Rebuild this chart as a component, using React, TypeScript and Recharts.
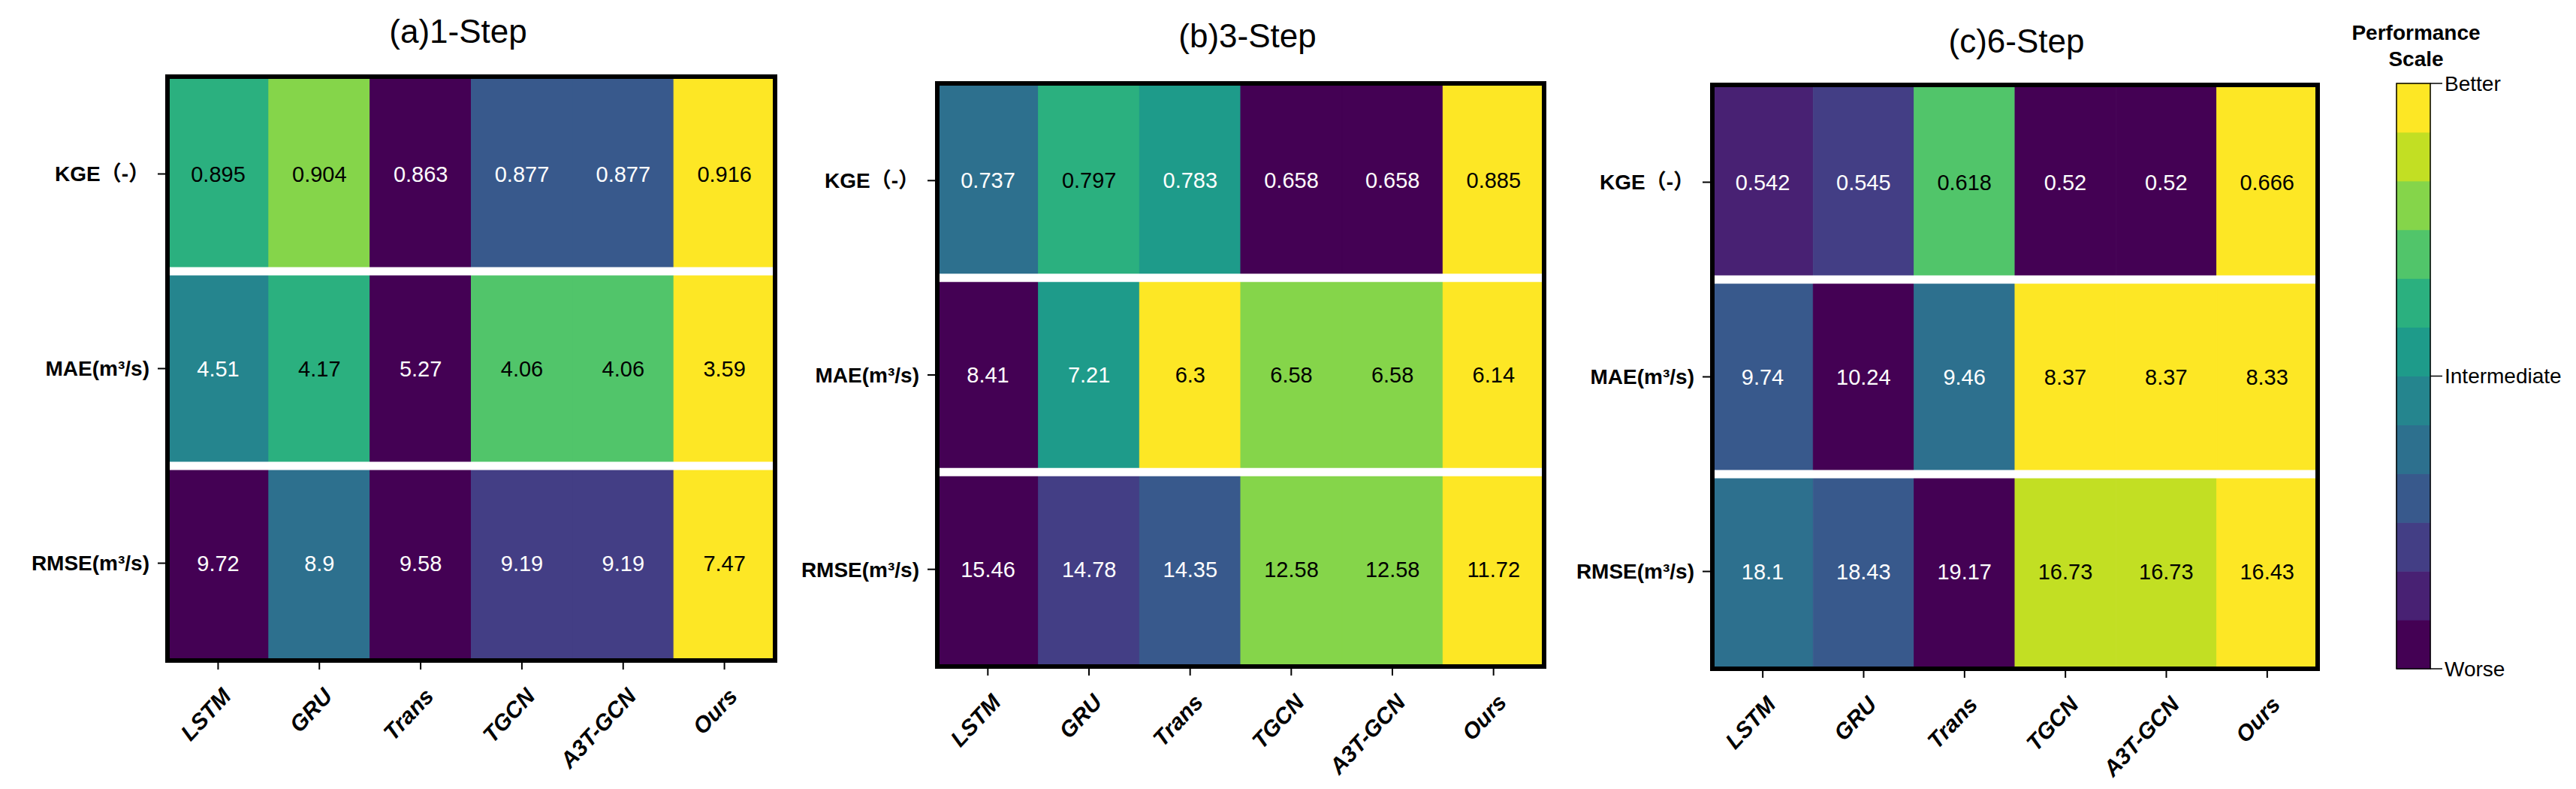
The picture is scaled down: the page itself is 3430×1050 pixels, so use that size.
import React from "react";
import {
  BarChart, Bar, XAxis, YAxis, Cell, LabelList, ReferenceLine, ReferenceArea,
} from "recharts";

const FONT = '"Liberation Sans", Arial, "Noto Sans CJK SC", sans-serif';

const MODELS = ["LSTM", "GRU", "Trans", "TGCN", "A3T-GCN", "Ours"];
const METRIC_LABELS = ["KGE（-）", "MAE(m³/s)", "RMSE(m³/s)"];

// 1-step
const KGE_1 = [0.895, 0.904, 0.863, 0.877, 0.877, 0.916];
const MAE_1 = [4.51, 4.17, 5.27, 4.06, 4.06, 3.59];
const RMSE_1 = [9.72, 8.9, 9.58, 9.19, 9.19, 7.47];
// 3-step
const KGE_3 = [0.737, 0.797, 0.783, 0.658, 0.658, 0.885];
const MAE_3 = [8.41, 7.21, 6.3, 6.58, 6.58, 6.14];
const RMSE_3 = [15.46, 14.78, 14.35, 12.58, 12.58, 11.72];
// 6-step
const KGE_6 = [0.542, 0.545, 0.618, 0.52, 0.52, 0.666];
const MAE_6 = [9.74, 10.24, 9.46, 8.37, 8.37, 8.33];
const RMSE_6 = [18.1, 18.43, 19.17, 16.73, 16.73, 16.43];

const VIRIDIS = [
  "#440154", "#482173", "#433E85", "#38598C", "#2D708E", "#25858E",
  "#1E9B8A", "#2BB07F", "#51C56A", "#85D54A", "#C2DF23", "#FDE725",
];
const SCALE_TICKS = ["Worse", "Intermediate", "Better"];

// colour level 0..11, 11 = best in the row
function levels(vals: number[], higherBetter: boolean) {
  const mn = Math.min(...vals);
  const mx = Math.max(...vals);
  return vals.map((v) => {
    const t = higherBetter ? (v - mn) / (mx - mn) : (mx - v) / (mx - mn);
    return Math.min(11, Math.floor(t * 12));
  });
}

function ModelTick(props: any) {
  const { x, y, payload } = props;
  const px = x + 19;
  const py = y + 35;
  return (
    <text
      x={px}
      y={py}
      transform={`rotate(-47 ${px} ${py})`}
      textAnchor="end"
      fontSize={30}
      fontWeight="bold"
      fontStyle="italic"
      fontFamily={FONT}
      fill="#000"
    >
      {payload.value}
    </text>
  );
}

const cellLabel = (vals: number[], lv: number[]) => (props: any) => {
  const vb = props.viewBox && props.viewBox.width != null ? props.viewBox : props;
  const x = Number(vb.x), y = Number(vb.y);
  const w = Number(vb.width), h = Number(vb.height);
  const idx = vals.indexOf(Number(props.value));
  const dark = idx >= 0 ? lv[idx] < 7 : true;
  return (
    <text
      x={x + w / 2}
      y={y + h / 2}
      textAnchor="middle"
      dominantBaseline="central"
      fontSize={29}
      fontFamily={FONT}
      fill={dark ? "#fff" : "#000"}
    >
      {props.value}
    </text>
  );
};

interface PanelProps {
  title: string;
  titleX: number;
  titleY: number;
  left: number;
  width: number;
  plotTop: number;
  plotBottom: number;
  yAxisWidth: number;
  kge: number[];
  mae: number[];
  rmse: number[];
}

function Panel({ title, titleX, titleY, left, width, plotTop, plotBottom, yAxisWidth, kge, mae, rmse }: PanelProps) {
  const rows = MODELS.map((m, i) => ({
    model: m,
    kgeCell: 1, maeCell: 1, rmseCell: 1,
    kge: kge[i], mae: mae[i], rmse: rmse[i],
  }));
  // bottom row first in the stack
  const series = [
    { key: "rmse", vals: rmse, lv: levels(rmse, false) },
    { key: "mae", vals: mae, lv: levels(mae, false) },
    { key: "kge", vals: kge, lv: levels(kge, true) },
  ];

  return (
    <>
      <div
        style={{
          position: "absolute", left: titleX - 300, top: titleY - 25, width: 600,
          textAlign: "center", fontSize: 44, lineHeight: "50px", fontFamily: FONT, color: "#000",
        }}
      >
        {title}
      </div>
      <div style={{ position: "absolute", left, top: 0 }}>
        <BarChart
          width={width}
          height={1050}
          data={rows}
          margin={{ top: plotTop, right: 13, bottom: 0, left: 0 }}
          barCategoryGap={0}
          barGap={0}
        >
          <XAxis
            dataKey="model"
            type="category"
            height={1050 - plotBottom}
            axisLine={false}
            tickLine={{ stroke: "#000", strokeWidth: 2 }}
            tickSize={12}
            interval={0}
            tick={<ModelTick />}
          />
          <YAxis
            type="number"
            domain={[0, 3]}
            ticks={[0.5, 1.5, 2.5]}
            width={yAxisWidth}
            axisLine={false}
            tickLine={{ stroke: "#000", strokeWidth: 2 }}
            tickSize={13}
            tickMargin={11}
            tickFormatter={(v: number) => METRIC_LABELS[2 - Math.floor(v)]}
            tick={{ fill: "#000", fontSize: 28, fontWeight: "bold", fontFamily: FONT }}
          />
          {series.map((s) => (
            <Bar key={s.key} dataKey={s.key + "Cell"} stackId="cells" isAnimationActive={false}>
              {s.lv.map((l, i) => (
                <Cell key={i} fill={VIRIDIS[l]} stroke={VIRIDIS[l]} strokeWidth={1} />
              ))}
              <LabelList dataKey={s.key} content={cellLabel(s.vals, s.lv)} />
            </Bar>
          ))}
          <ReferenceLine y={1} stroke="#fff" strokeWidth={11} zIndex={800} />
          <ReferenceLine y={2} stroke="#fff" strokeWidth={11} zIndex={800} />
          <ReferenceArea y1={0} y2={3} fill="none" fillOpacity={0} stroke="#000" strokeWidth={6} zIndex={900} />
        </BarChart>
      </div>
    </>
  );
}

function ColorScale() {
  const row: Record<string, any> = { name: "scale" };
  VIRIDIS.forEach((_, i) => { row["s" + i] = 1; });
  return (
    <>
      <div
        style={{
          position: "absolute", left: 3217 - 150, top: 26, width: 300, textAlign: "center",
          fontSize: 28, lineHeight: "35px", fontWeight: "bold", fontFamily: FONT, color: "#000",
        }}
      >
        Performance
        <br />
        Scale
      </div>
      <div style={{ position: "absolute", left: 3150, top: 0 }}>
        <BarChart
          width={280}
          height={1050}
          data={[row]}
          margin={{ top: 111, right: 0, bottom: 160, left: 41 }}
          barCategoryGap={0}
          barGap={0}
        >
          <XAxis dataKey="name" hide />
          <YAxis
            orientation="right"
            type="number"
            domain={[0, 12]}
            ticks={[0, 6, 12]}
            width={194}
            axisLine={false}
            tickLine={{ stroke: "#000", strokeWidth: 1.5 }}
            tickSize={16}
            tickMargin={3}
            tickFormatter={(v: number) => SCALE_TICKS[v / 6]}
            tick={{ fill: "#000", fontSize: 28, fontFamily: FONT }}
          />
          {VIRIDIS.map((c, i) => (
            <Bar key={i} dataKey={"s" + i} stackId="scale" fill={c} stroke={c} strokeWidth={1} isAnimationActive={false} />
          ))}
          <ReferenceArea y1={0} y2={12} fill="none" fillOpacity={0} stroke="#000" strokeWidth={1.5} zIndex={900} />
        </BarChart>
      </div>
    </>
  );
}

export default function App() {
  return (
    <div
      style={{
        position: "absolute", left: 0, top: 0, width: 3430, height: 1050,
        background: "#fff", overflow: "hidden",
      }}
    >
      <Panel
        title="(a)1-Step" titleX={610} titleY={42}
        left={0} width={1045} plotTop={102} plotBottom={879} yAxisWidth={223}
        kge={KGE_1} mae={MAE_1} rmse={RMSE_1}
      />
      <Panel
        title="(b)3-Step" titleX={1661} titleY={48}
        left={1040} width={1029} plotTop={111} plotBottom={887} yAxisWidth={208}
        kge={KGE_3} mae={MAE_3} rmse={RMSE_3}
      />
      <Panel
        title="(c)6-Step" titleX={2685} titleY={55}
        left={2050} width={1049} plotTop={113} plotBottom={890} yAxisWidth={230}
        kge={KGE_6} mae={MAE_6} rmse={RMSE_6}
      />
      <ColorScale />
    </div>
  );
}
